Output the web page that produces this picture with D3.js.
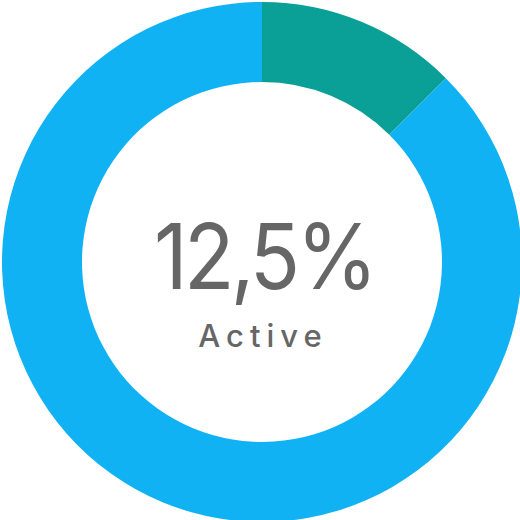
<!DOCTYPE html>
<html>
<head>
<meta charset="utf-8">
<script src="https://cdn.jsdelivr.net/npm/d3@7"></script>
<style>
html,body{margin:0;padding:0;background:#fff;}
svg{display:block;}
</style>
</head>
<body>
<svg id="chart" width="520" height="520"></svg>
<script>
const categories = ["Active", "Inactive"];
const values = [12.5, 87.5];
const colors = ["#0a9f97", "#10b2f4"];
const centerValue = "12,5%";
const centerLabel = "Active";

const svg = d3.select("#chart");
const cx = 262, cy = 262, outerR = 260, innerR = 180;
const g = svg.append("g").attr("transform", `translate(${cx},${cy})`);

const pie = d3.pie().sort(null).value(d => d.value);
const arc = d3.arc().innerRadius(innerR).outerRadius(outerR);
const data = categories.map((c, i) => ({cat: c, value: values[i]}));
const color = d3.scaleOrdinal().domain(categories).range(colors);

g.selectAll("path").data(pie(data)).enter().append("path")
  .attr("d", arc)
  .attr("fill", d => color(d.data.cat));

g.append("g")
  .attr("transform", "translate(2,27) scale(0.92,1)")
  .append("text")
  .attr("x", 0).attr("y", 0)
  .attr("text-anchor", "middle")
  .attr("font-family", "Inter, sans-serif")
  .attr("font-size", 90)
  .attr("font-weight", 400)
  .attr("letter-spacing", -4)
  .attr("fill", "#666666")
  .text(centerValue);

g.append("text")
  .attr("x", 1).attr("y", 85)
  .attr("text-anchor", "middle")
  .attr("font-family", "Inter, 'Open Sans', sans-serif")
  .attr("font-size", 31)
  .attr("font-weight", 500)
  .attr("letter-spacing", 6)
  .attr("fill", "#666666")
  .text(centerLabel);
</script>
</body>
</html>
